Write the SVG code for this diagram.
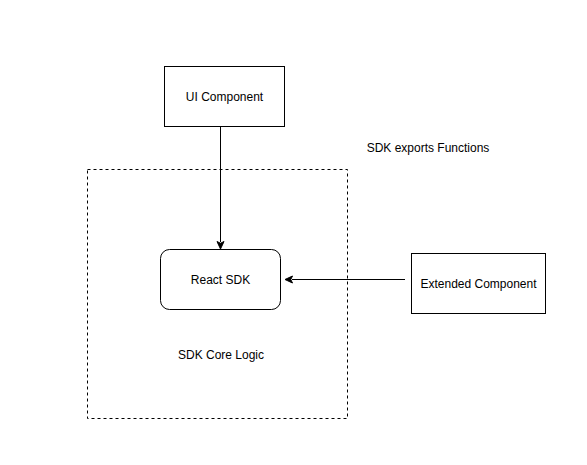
<svg xmlns="http://www.w3.org/2000/svg" width="587" height="465" viewBox="0 0 587 465">
<style>
.box{fill:#fff;stroke:#000;stroke-width:1}
.lbl{font-family:"Liberation Sans",Arial,Helvetica,sans-serif;font-size:12px;fill:#000;text-anchor:middle}
.edge{fill:none;stroke:#000;stroke-width:1}
</style>
<rect x="0" y="0" width="587" height="465" fill="#fff"/>
<g id="sdk-core-logic">
<rect x="87.5" y="169.5" width="260" height="249" fill="none" stroke="#000" stroke-dasharray="3 3"/>
<text class="lbl" x="221" y="359">SDK Core Logic</text>
</g>
<g id="sdk-exports-label">
<text class="lbl" x="428" y="152">SDK exports Functions</text>
</g>
<g id="ui-component">
<rect class="box" x="164.5" y="66.5" width="120" height="60"/>
<text class="lbl" x="224.5" y="100.5">UI Component</text>
</g>
<g id="react-sdk">
<rect class="box" x="160.5" y="249.5" width="120" height="60" rx="9" ry="9"/>
<text class="lbl" x="220.5" y="283.5">React SDK</text>
</g>
<g id="extended-component">
<rect class="box" x="411.5" y="253.5" width="134" height="60"/>
<text class="lbl" x="478.5" y="287.5">Extended Component</text>
</g>
<g id="connectors">
<path class="edge" d="M220.5 126.5 V242"/>
<path d="M220.5 249 L217 241.5 L220.5 243.25 L224 241.5 Z" fill="#000" stroke="#000"/>
<path class="edge" d="M405 279.5 H292"/>
<path d="M285 279.5 L292.5 276 L290.75 279.5 L292.5 283 Z" fill="#000" stroke="#000"/>
</g>
</svg>
